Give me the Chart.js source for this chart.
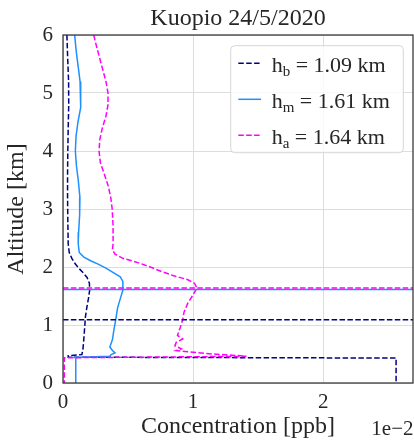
<!DOCTYPE html>
<html><head><meta charset="utf-8">
<script src="https://cdn.jsdelivr.net/npm/chart.js@4.4.1/dist/chart.umd.min.js"></script>
<style>html,body{margin:0;padding:0;background:#fff;}#wrap{position:relative;width:414px;height:446px;}</style>
</head><body><div id="wrap"><canvas id="c" width="414" height="446"></canvas></div>
<script>
// ---- data (concentration in units of 1e-2 ppb, altitude in km) ----
const titleText = 'Kuopio 24/5/2020';
const xTitle = 'Concentration [ppb]';
const yTitle = 'Altitude [km]';
const offsetText = '1e\u22122';
const xTicks = [0, 1, 2];
const yTicks = [0, 1, 2, 3, 4, 5, 6];
const xMax = 2.69;
const yMax = 6;

const layerNames = ['b', 'm', 'a'];
const layerHeights = [1.09, 1.61, 1.64];
const layerColors = ['#000080', '#1E90FF', '#FF00FF'];
const layerDashed = [true, false, true];

const hbAlt  = [6.0, 5.6, 5.2, 4.8, 4.4, 4.0, 3.6, 3.2, 2.8, 2.4, 2.25, 2.15, 2.05, 1.97, 1.9, 1.82, 1.72, 1.6, 1.45, 1.3, 1.15, 1.0, 0.85, 0.7, 0.58, 0.49, 0.47, 0.445, 0.43, 0.0];
const hbConc = [0.030, 0.036, 0.043, 0.044, 0.040, 0.037, 0.035, 0.035, 0.037, 0.040, 0.048, 0.068, 0.095, 0.125, 0.155, 0.185, 0.203, 0.205, 0.195, 0.183, 0.173, 0.168, 0.163, 0.158, 0.153, 0.145, 0.040, 0.040, 2.56, 2.56];

const hmAlt  = [6.0, 5.8, 5.6, 5.4, 5.2, 5.0, 4.75, 4.5, 4.25, 4.0, 3.75, 3.5, 3.2, 2.9, 2.6, 2.4, 2.25, 2.17, 2.1, 2.05, 1.98, 1.9, 1.83, 1.75, 1.6, 1.45, 1.3, 1.09, 0.9, 0.75, 0.62, 0.56, 0.52, 0.49, 0.46, 0.44, 0.43, 0.0];
const hmConc = [0.090, 0.098, 0.108, 0.120, 0.131, 0.136, 0.136, 0.115, 0.100, 0.095, 0.103, 0.117, 0.130, 0.128, 0.120, 0.117, 0.125, 0.160, 0.220, 0.270, 0.330, 0.390, 0.440, 0.460, 0.460, 0.440, 0.420, 0.405, 0.390, 0.380, 0.360, 0.380, 0.400, 0.370, 0.360, 0.090, 0.098, 0.098];

const haAlt  = [6.0, 5.8, 5.6, 5.4, 5.2, 5.0, 4.8, 4.6, 4.4, 4.2, 4.0, 3.8, 3.6, 3.4, 3.2, 3.0, 2.7, 2.4, 2.3, 2.22, 2.15, 2.08, 2.0, 1.92, 1.85, 1.78, 1.72, 1.64, 1.52, 1.38, 1.22, 1.09, 0.95, 0.82, 0.76, 0.70, 0.64, 0.59, 0.56, 0.53, 0.50, 0.48, 0.46, 0.435, 0.0];
const haConc = [0.236, 0.258, 0.282, 0.306, 0.330, 0.346, 0.346, 0.330, 0.303, 0.283, 0.277, 0.287, 0.318, 0.347, 0.367, 0.378, 0.385, 0.385, 0.380, 0.400, 0.460, 0.570, 0.670, 0.760, 0.850, 0.960, 1.010, 1.030, 1.000, 0.960, 0.930, 0.920, 0.900, 0.880, 0.920, 0.870, 0.860, 0.910, 0.870, 1.000, 1.150, 1.300, 1.410, 0.010, 0.010];

// ---- helpers ----
const FONT = '"Liberation Serif", "Times New Roman", serif';
const TXT = '#262626';
const DASH = [5.5, 2.4];
function pts(alt, conc) { return alt.map((a, i) => ({x: conc[i], y: a})); }
function hline(h) { return [{x: 0, y: h}, {x: xMax, y: h}]; }
function ds(data, i) {
  return {data, borderColor: layerColors[i], backgroundColor: layerColors[i], borderWidth: 1.5,
    borderDash: layerDashed[i] ? DASH : [], pointRadius: 0, showLine: true, fill: false, tension: 0};
}
const profiles = [pts(hbAlt, hbConc), pts(hmAlt, hmConc), pts(haAlt, haConc)];

// Chart.js draws dataset 0 on top: list in reverse drawing order
const datasets = [
  ds(hline(layerHeights[2]), 2), ds(hline(layerHeights[1]), 1), ds(hline(layerHeights[0]), 0),
  ds(profiles[2], 2), ds(profiles[1], 1), ds(profiles[0], 0)
];

const decor = {
  id: 'decor',
  afterDatasetsDraw(chart) {
    const ctx = chart.ctx, ca = chart.chartArea;
    ctx.save();
    ctx.strokeStyle = '#333333';
    ctx.lineWidth = 1.25;
    ctx.setLineDash([]);
    ctx.strokeRect(ca.left, ca.top, ca.right - ca.left, ca.bottom - ca.top);
    ctx.restore();
  },
  afterDraw(chart) {
    const ctx = chart.ctx, ca = chart.chartArea;
    ctx.save();
    // legend
    const w = 172.6, h = 107;
    const lx = ca.right - 9.7 - w, ly = ca.top + 10.7;
    ctx.beginPath();
    ctx.roundRect(lx, ly, w, h, 4);
    ctx.fillStyle = 'rgba(255,255,255,0.8)';
    ctx.fill();
    ctx.strokeStyle = 'rgba(204,204,204,0.8)';
    ctx.lineWidth = 1;
    ctx.stroke();
    for (let i = 0; i < layerNames.length; i++) {
      const y = ly + 17.6 + i * 36;
      ctx.beginPath();
      ctx.strokeStyle = layerColors[i];
      ctx.lineWidth = 1.5;
      ctx.setLineDash(layerDashed[i] ? DASH : []);
      ctx.moveTo(lx + 7.6, y);
      ctx.lineTo(lx + 30.3, y);
      ctx.stroke();
      ctx.setLineDash([]);
      ctx.fillStyle = TXT;
      ctx.textBaseline = 'alphabetic';
      ctx.textAlign = 'left';
      let x = lx + 41;
      ctx.font = '22px ' + FONT;
      ctx.fillText('h', x, y + 8.5);
      x += ctx.measureText('h').width;
      ctx.font = '15px ' + FONT;
      ctx.fillText(layerNames[i], x, y + 13);
      x += ctx.measureText(layerNames[i]).width;
      ctx.font = '22px ' + FONT;
      ctx.fillText(' = ' + layerHeights[i].toFixed(2) + ' km', x, y + 8.5);
    }
    // offset text
    ctx.font = '21px ' + FONT;
    ctx.fillStyle = TXT;
    ctx.textAlign = 'right';
    ctx.textBaseline = 'alphabetic';
    ctx.fillText(offsetText, 413.5, 435);
    ctx.restore();
  }
};

new Chart(document.getElementById('c'), {
  type: 'scatter',
  data: {datasets},
  plugins: [decor],
  options: {
    responsive: false, animation: false, devicePixelRatio: 1,
    layout: {padding: {left: 0, right: 1, top: 0, bottom: 0}},
    plugins: {
      legend: {display: false}, tooltip: {enabled: false},
      title: {display: true, text: titleText, fullSize: false, color: TXT,
        font: {family: FONT, size: 24, weight: 'normal', lineHeight: 1.2}, padding: {top: 4.8, bottom: 1.4}}
    },
    scales: {
      x: {type: 'linear', min: 0, max: xMax,
        afterFit(s) { s.height = 63; },
        afterBuildTicks(s) { s.ticks = xTicks.map(v => ({value: v})); },
        ticks: {font: {family: FONT, size: 21}, color: TXT, padding: 7, callback: v => String(v), maxRotation: 0},
        grid: {color: '#dddddd', lineWidth: 1, drawTicks: false},
        border: {display: false},
        title: {display: true, text: xTitle, color: TXT, font: {family: FONT, size: 24, lineHeight: 1.2}, padding: {top: 0, bottom: 4.7}}
      },
      y: {type: 'linear', min: 0, max: yMax,
        afterFit(s) { s.width = 63; },
        afterBuildTicks(s) { s.ticks = yTicks.map(v => ({value: v})); },
        ticks: {font: {family: FONT, size: 21}, color: TXT, padding: 10, callback: v => String(v)},
        grid: {color: '#dddddd', lineWidth: 1, drawTicks: false},
        border: {display: false},
        title: {display: true, text: yTitle, color: TXT, font: {family: FONT, size: 24, lineHeight: 1.2}, padding: {top: 2.5, bottom: 0}}
      }
    }
  }
});
</script></body></html>
